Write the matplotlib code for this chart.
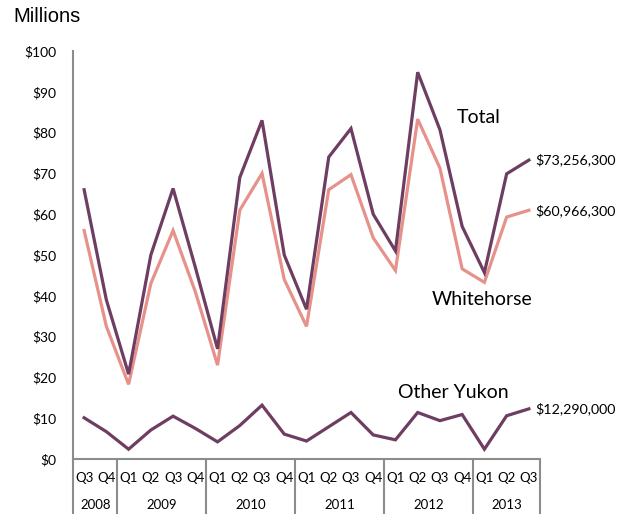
import matplotlib
matplotlib.use("Agg")
import matplotlib.pyplot as plt
from matplotlib.transforms import blended_transform_factory

# Quarterly values, millions of dollars
years = ["2008", "2009", "2010", "2011", "2012", "2013"]
quarters_per_year = [["Q3", "Q4"],
                     ["Q1", "Q2", "Q3", "Q4"],
                     ["Q1", "Q2", "Q3", "Q4"],
                     ["Q1", "Q2", "Q3", "Q4"],
                     ["Q1", "Q2", "Q3", "Q4"],
                     ["Q1", "Q2", "Q3"]]

total = [66.0, 39.0, 20.8, 50.0, 66.3, 47.0, 27.0, 69.0, 83.0, 50.0, 36.7,
         74.0, 81.0, 60.0, 51.0, 94.8, 80.7, 57.0, 45.7, 69.9, 73.2563]
whitehorse = [56.0, 32.5, 18.3, 43.0, 56.0, 41.0, 23.0, 61.0, 70.0, 44.0, 32.5,
              66.0, 69.7, 54.2, 46.2, 83.3, 71.3, 46.6, 43.3, 59.3, 60.9663]
other_yukon = [10.1, 6.7, 2.4, 7.1, 10.5, 7.5, 4.2, 8.2, 13.2, 6.1, 4.4,
               7.9, 11.4, 5.9, 4.7, 11.4, 9.4, 10.9, 2.4, 10.6, 12.29]

yticks = [0, 10, 20, 30, 40, 50, 60, 70, 80, 90, 100]

PLUM = "#6E3D62"
SALMON = "#E6918A"
GREY = "#8C8C8C"
FONT = "Lato"

fig = plt.figure(figsize=(6.29, 5.14), dpi=100)
ax = fig.add_axes([73 / 629, 55 / 514, 467 / 629, 408 / 514])

x = list(range(len(total)))
ax.plot(x, whitehorse, color=SALMON, lw=2.3, solid_joinstyle="miter")
ax.plot(x, total, color=PLUM, lw=2.3, solid_joinstyle="miter")
ax.plot(x, other_yukon, color=PLUM, lw=2.3, solid_joinstyle="miter")

ax.set_xlim(-0.5, len(total) - 0.5)
ax.set_ylim(0, 100)
ax.set_yticks(yticks)
ax.set_yticklabels([f"${v}" for v in yticks], fontfamily=FONT, fontsize=10)
ax.tick_params(axis="y", length=0, pad=12)
ax.set_xticks([])

for side in ["top", "right"]:
    ax.spines[side].set_visible(False)
for side in ["left", "bottom"]:
    ax.spines[side].set_color(GREY)
    ax.spines[side].set_linewidth(1.5)

# Two-level category axis: quarters over years, boxed by year
trans = blended_transform_factory(ax.transData, ax.transAxes)
pos = 0
edges = [-0.5]
for yr, qs in zip(years, quarters_per_year):
    for q in qs:
        ax.text(pos, -0.047, q, transform=trans, ha="center", va="center",
                fontfamily=FONT, fontsize=9.5)
        pos += 1
    edges.append(pos - 0.5)
    centre = (edges[-2] + edges[-1]) / 2
    ax.text(centre, -0.113, yr, transform=trans, ha="center", va="center",
            fontfamily=FONT, fontsize=9.5)
for e in edges:
    ax.plot([e, e], [0, -0.14], transform=trans, color=GREY, lw=1.5,
            clip_on=False, solid_capstyle="butt")

# Series names
ax.text(17.75, 83.8, "Total", fontfamily=FONT, fontsize=14, ha="center", va="center")
ax.text(17.9, 39.0, "Whitehorse", fontfamily=FONT, fontsize=14, ha="center", va="center")
ax.text(16.6, 16.3, "Other Yukon", fontfamily=FONT, fontsize=14, ha="center", va="center")

# End-of-series value labels
last = len(total) - 1
for series in (total, whitehorse, other_yukon):
    ax.text(last + 0.3, series[-1], f"${series[-1] * 1e6:,.0f}",
            fontfamily=FONT, fontsize=10.3, ha="left", va="center", clip_on=False)

fig.text(13 / 629, 1 - 17 / 514, "Millions", fontfamily="Liberation Sans",
         fontsize=14.5, ha="left", va="center")

fig.savefig("out.png", dpi=100)
